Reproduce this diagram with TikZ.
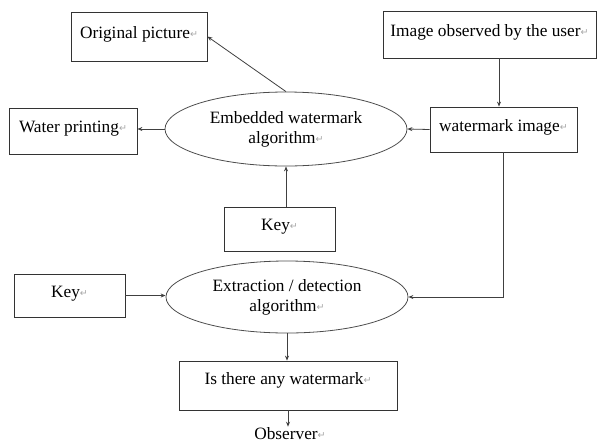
\documentclass[tikz,border=0pt]{standalone}
\usepackage{fontspec}
\usepackage{tikz}
\usetikzlibrary{arrows.meta, shapes.geometric}
\setmainfont{Liberation Serif}
\newfontfamily\markfont{DejaVu Sans}
\newcommand\retmark{{\markfont\fontsize{9.5}{9.5}\selectfont\color{black!35}\raisebox{1pt}{↵}}}
\tikzset{
	box/.style={draw=black!80, line width=0.8pt, inner sep=0pt, text height=12pt, text depth=9pt},
	oval/.style={draw=black!70, line width=0.8pt, ellipse, inner sep=0pt, align=center},
	arr/.style={draw=black!75, line width=0.8pt, -{Stealth[length=5pt, width=4pt]}}
}
\begin{document}
\begin{tikzpicture}[x=1pt, y=-1pt, font=\fontsize{17.3}{20}\selectfont]
		\useasboundingbox (0, 0) rectangle (597, 445);
		\node[box, minimum width=136pt, minimum height=49pt] (orig) at (139, 36.5) {Original picture\retmark};
		\node[box, minimum width=213pt, minimum height=47pt] (user) at (489.5, 34.5) {Image observed by the user\retmark};
		\node[oval, minimum width=242pt, minimum height=74pt] (emb) at (286, 129) {Embedded watermark\\algorithm\retmark};
		\node[box, minimum width=128pt, minimum height=46pt] (water) at (73, 131) {Water printing\retmark};
		\node[box, minimum width=147pt, minimum height=45pt] (wimg) at (503.5, 129.5) {watermark image\retmark};
		\node[box, minimum width=111pt, minimum height=44pt] (keyA) at (279.5, 229) {Key\retmark};
		\node[box, minimum width=111pt, minimum height=43pt] (keyB) at (69.5, 295.5) {Key\retmark};
		\node[oval, minimum width=242pt, minimum height=72pt] (ext) at (287, 297) {Extraction / detection\\algorithm\retmark};
		\node[box, minimum width=218pt, minimum height=49pt, text depth=14pt] (isany) at (288, 385.5) {Is there any watermark\retmark};
		\node[inner sep=1pt] (obs) at (290, 434) {Observer\retmark};
		\draw[arr] (emb.north) -- (orig.east);
		\draw[arr] ([xshift=9.5pt]user.south) -- ([xshift=9.5pt]user.south |- wimg.north);
		\draw[arr] (wimg.west) -- (emb.east);
		\draw[arr] (emb.west) -- (emb.west -| water.east);
		\draw[arr] (emb.south |- keyA.north) -- (emb.south);
		\draw[arr] (keyB.east) -- (keyB.east -| ext.west);
		\draw[arr] (wimg.south) |- (ext.east);
		\draw[arr] (ext.south) -- (ext.south |- isany.north);
		\draw[arr] (isany.south) -- (isany.south |- obs.north);
	\end{tikzpicture}
\end{document}
